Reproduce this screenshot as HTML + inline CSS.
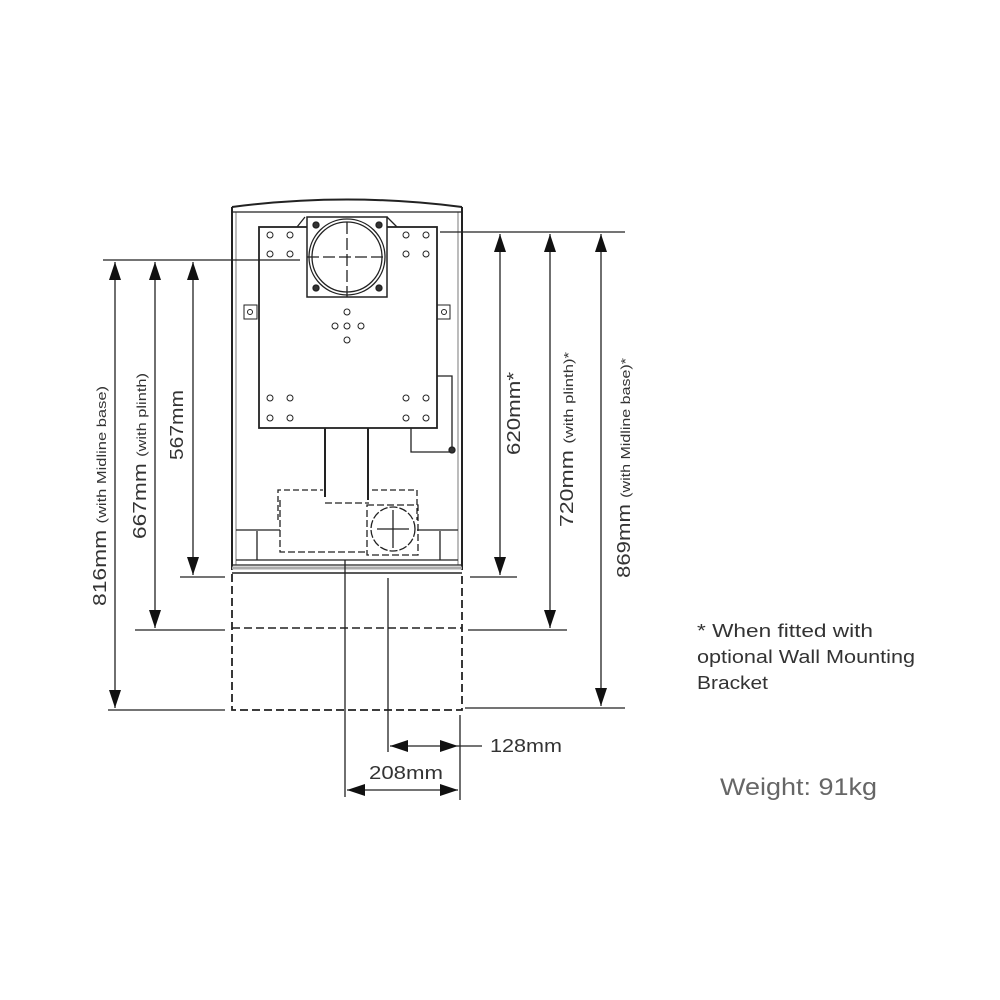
<!DOCTYPE html>
<html><head><meta charset="utf-8"><style>
html,body{margin:0;padding:0;background:#fff}
svg{display:block}
text{font-family:"Liberation Sans",sans-serif;fill:#333}
</style></head><body>
<svg width="1000" height="1000" viewBox="0 0 1000 1000" xmlns="http://www.w3.org/2000/svg">
<defs>
<marker id="b" viewBox="0 0 18 12" refX="18" refY="6" markerWidth="18" markerHeight="12" markerUnits="userSpaceOnUse" orient="auto-start-reverse"><path d="M0,0 L18,6 L0,12 z" fill="#111"/></marker>
</defs>
<g stroke="#222" fill="none" stroke-width="1.3">
<path d="M232,207 Q347,192 462,207" stroke-width="2"/>
<path d="M232,207 V570 M462,207 V570" stroke-width="2"/>
<path d="M236,212 V565 M458,212 V565" stroke="#999"/>
<path d="M232,212 H462" />
<rect x="259" y="227" width="178" height="201" stroke-width="1.8"/>
<path d="M297,227 L305,217 M387,217 L397,227"/>
<rect x="307" y="217" width="80" height="80" stroke-width="1.5" fill="#fff"/>
<circle cx="347" cy="257" r="38"/><circle cx="347" cy="257" r="35"/>
<path d="M347,222 V297 M307,257 H387" stroke-dasharray="12 4"/>
<g fill="#333"><circle cx="316" cy="225" r="3"/><circle cx="379" cy="225" r="3"/><circle cx="316" cy="288" r="3"/><circle cx="379" cy="288" r="3"/></g>
<g stroke-width="1">
<circle cx="270" cy="235" r="3"/><circle cx="290" cy="235" r="3"/><circle cx="270" cy="254" r="3"/><circle cx="290" cy="254" r="3"/>
<circle cx="406" cy="235" r="3"/><circle cx="426" cy="235" r="3"/><circle cx="406" cy="254" r="3"/><circle cx="426" cy="254" r="3"/>
<circle cx="347" cy="312" r="3"/><circle cx="335" cy="326" r="3"/><circle cx="347" cy="326" r="3"/><circle cx="361" cy="326" r="3"/><circle cx="347" cy="340" r="3"/>
<circle cx="270" cy="398" r="3"/><circle cx="290" cy="398" r="3"/><circle cx="270" cy="418" r="3"/><circle cx="290" cy="418" r="3"/>
<circle cx="406" cy="398" r="3"/><circle cx="426" cy="398" r="3"/><circle cx="406" cy="418" r="3"/><circle cx="426" cy="418" r="3"/>
<rect x="244" y="305" width="13" height="14"/><circle cx="250" cy="312" r="2.5"/>
<rect x="437" y="305" width="13" height="14"/><circle cx="444" cy="312" r="2.5"/>
</g>
<path d="M437,376 H452 V452 H411 V428" />
<circle cx="452" cy="450" r="3" fill="#333"/>
<path d="M325,428 V497 M368,428 V500" stroke-width="2"/>
<path d="M278,520 V490 H323 M372,490 H417 V520" stroke-dasharray="6 3"/>
<path d="M280,500 V552 H367 M325,503 H369" stroke-dasharray="7 3"/>
<path d="M367,505 H418 V555 H367 Z" stroke-dasharray="7 3"/>
<circle cx="393" cy="529" r="22" stroke-dasharray="8 2"/>
<path d="M393,510 V548 M377,529 H409"/>
<path d="M236,530 H280 M417,530 H458 M236,560 H458 M232,565 H462" />
<path d="M232,568 H462" stroke="#aaa" stroke-width="3"/>
<path d="M257,531 V560 M440,531 V560"/>
<path d="M232,574 V710 H462 V574" stroke-dasharray="8 4" stroke-width="1.8"/>
<path d="M232,628 H462" stroke-dasharray="8 4" stroke-width="1.6"/>
<path d="M232,573 H462" stroke-width="1.5"/>
<path d="M103,260 H300 M108,710 H225 M135,630 H225 M180,577 H225"/>
<path d="M440,232 H625 M470,577 H517 M468,630 H567 M465,708 H625"/>
<path d="M345,560 V797 M388,578 V752 M460,715 V800 M458,746 H482"/>
<path d="M115,262 V708" marker-start="url(#b)" marker-end="url(#b)"/>
<path d="M155,262 V628" marker-start="url(#b)" marker-end="url(#b)"/>
<path d="M193,262 V575" marker-start="url(#b)" marker-end="url(#b)"/>
<path d="M500,234 V575" marker-start="url(#b)" marker-end="url(#b)"/>
<path d="M550,234 V628" marker-start="url(#b)" marker-end="url(#b)"/>
<path d="M601,234 V706" marker-start="url(#b)" marker-end="url(#b)"/>
<path d="M390,746 H458" marker-start="url(#b)" marker-end="url(#b)"/>
<path d="M347,790 H458" marker-start="url(#b)" marker-end="url(#b)"/>
</g>
<g font-size="18">
<text transform="translate(106,606) rotate(-90)" textLength="220" lengthAdjust="spacingAndGlyphs">816mm <tspan font-size="13">(with Midline base)</tspan></text>
<text transform="translate(146,539) rotate(-90)" textLength="166" lengthAdjust="spacingAndGlyphs">667mm <tspan font-size="13">(with plinth)</tspan></text>
<text transform="translate(183,460) rotate(-90)" textLength="70" lengthAdjust="spacingAndGlyphs">567mm</text>
<text transform="translate(520,455) rotate(-90)" textLength="83" lengthAdjust="spacingAndGlyphs">620mm*</text>
<text transform="translate(573,527) rotate(-90)" textLength="175" lengthAdjust="spacingAndGlyphs">720mm <tspan font-size="13">(with plinth)*</tspan></text>
<text transform="translate(630,578) rotate(-90)" textLength="220" lengthAdjust="spacingAndGlyphs">869mm <tspan font-size="13">(with Midline base)*</tspan></text>
<text x="490" y="752" textLength="72" lengthAdjust="spacingAndGlyphs">128mm</text>
<text x="369" y="779" textLength="74" lengthAdjust="spacingAndGlyphs">208mm</text>
<text x="697" y="637" textLength="176" lengthAdjust="spacingAndGlyphs">* When fitted with</text>
<text x="697" y="663" textLength="218" lengthAdjust="spacingAndGlyphs">optional Wall Mounting</text>
<text x="697" y="689" textLength="71" lengthAdjust="spacingAndGlyphs">Bracket</text>
<text x="720" y="795" font-size="24" style="fill:#666" textLength="157" lengthAdjust="spacingAndGlyphs">Weight: 91kg</text>
</g>
</svg>
</body></html>
